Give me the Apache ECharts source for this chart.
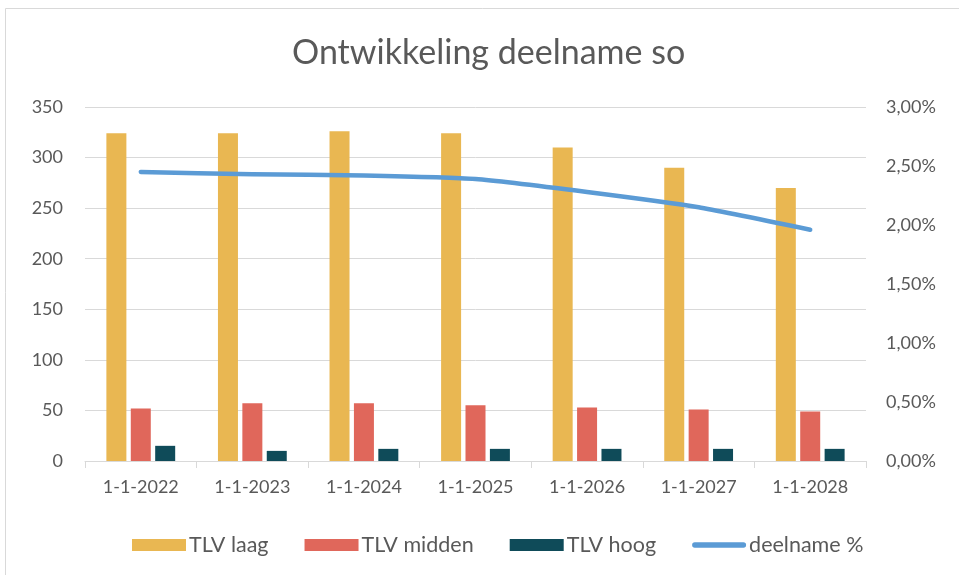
<!DOCTYPE html>
<html>
<head>
<meta charset="utf-8">
<script src="https://cdn.jsdelivr.net/npm/echarts@6/dist/echarts.min.js"></script>
<style>html,body{margin:0;padding:0;background:#fff}#c{width:959px;height:575px}</style>
</head>
<body>
<div id="c"></div>
<script>
var categories = ['1-1-2022','1-1-2023','1-1-2024','1-1-2025','1-1-2026','1-1-2027','1-1-2028'];
var tlvLaag = [324, 324, 326, 324, 310, 290, 270];
var tlvMidden = [52, 57, 57, 55, 53, 51, 49];
var tlvHoog = [15, 10, 12, 12, 12, 12, 12];
var deelname = [2.45, 2.43, 2.42, 2.39, 2.28, 2.15, 1.96];

var FONT = 'Lato';
var TXT = '#595959';
var chart = echarts.init(document.getElementById('c'));
chart.setOption({
  animation: false,
  textStyle: {fontFamily: FONT},
  graphic: [{type: 'rect', shape: {x: 5.5, y: 8.5, width: 990, height: 600}, style: {fill: 'none', stroke: '#d9d9d9', lineWidth: 1}, silent: true, z: -1}],
  title: {text: 'Ontwikkeling deelname so', left: 287, top: 31, textStyle: {fontFamily: FONT, fontSize: 34, fontWeight: 'normal', color: TXT}},
  legend: {
    bottom: 14, left: 127, itemWidth: 54, itemHeight: 12, itemGap: 36,
    textStyle: {fontFamily: FONT, fontSize: 21.5, color: TXT, padding: [0,0,0,-2]},
    data: [
      {name: 'TLV laag', icon: 'rect'},
      {name: 'TLV midden', icon: 'rect'},
      {name: 'TLV hoog', icon: 'rect'},
      {name: 'deelname %', icon: 'path://M3,0 L57,0 A3,3 0 0 1 57,6 L3,6 A3,3 0 0 1 3,0 Z'}
    ]
  },
  grid: {left: 85, right: 93, top: 107, bottom: 114},
  xAxis: {
    type: 'category', data: categories,
    axisLine: {lineStyle: {color: '#d9d9d9', width: 1}},
    axisTick: {show: true, length: 7, lineStyle: {color: '#d9d9d9'}},
    axisLabel: {fontFamily: FONT, fontSize: 18, color: TXT, margin: 17}
  },
  yAxis: [
    {type: 'value', min: 0, max: 350, interval: 50,
     axisLine: {show: false}, axisTick: {show: false},
     splitLine: {lineStyle: {color: '#d9d9d9', width: 1}},
     axisLabel: {fontFamily: FONT, fontSize: 18, color: TXT, margin: 22}},
    {type: 'value', min: 0, max: 3, interval: 0.5, position: 'right',
     axisLine: {show: false}, axisTick: {show: false}, splitLine: {show: false},
     axisLabel: {fontFamily: FONT, fontSize: 18, color: TXT, margin: 20,
       formatter: function(v){ return v.toFixed(2).replace('.', ',') + '%'; }}}
  ],
  series: [
    {name: 'TLV laag', type: 'bar', data: tlvLaag, barWidth: 20, barGap: '22%', itemStyle: {color: '#E9B752'}},
    {name: 'TLV midden', type: 'bar', data: tlvMidden, barWidth: 20, barGap: '22%', itemStyle: {color: '#E0675B'}},
    {name: 'TLV hoog', type: 'bar', data: tlvHoog, barWidth: 20, barGap: '22%', itemStyle: {color: '#0F4B59'}},
    {name: 'deelname %', type: 'line', yAxisIndex: 1, data: deelname, showSymbol: false, symbol: 'none', smooth: 0.15,
     lineStyle: {color: '#5B9BD5', width: 4.5, cap: 'round', join: 'round'}, itemStyle: {color: '#5B9BD5'}}
  ]
});
</script>
</body>
</html>
